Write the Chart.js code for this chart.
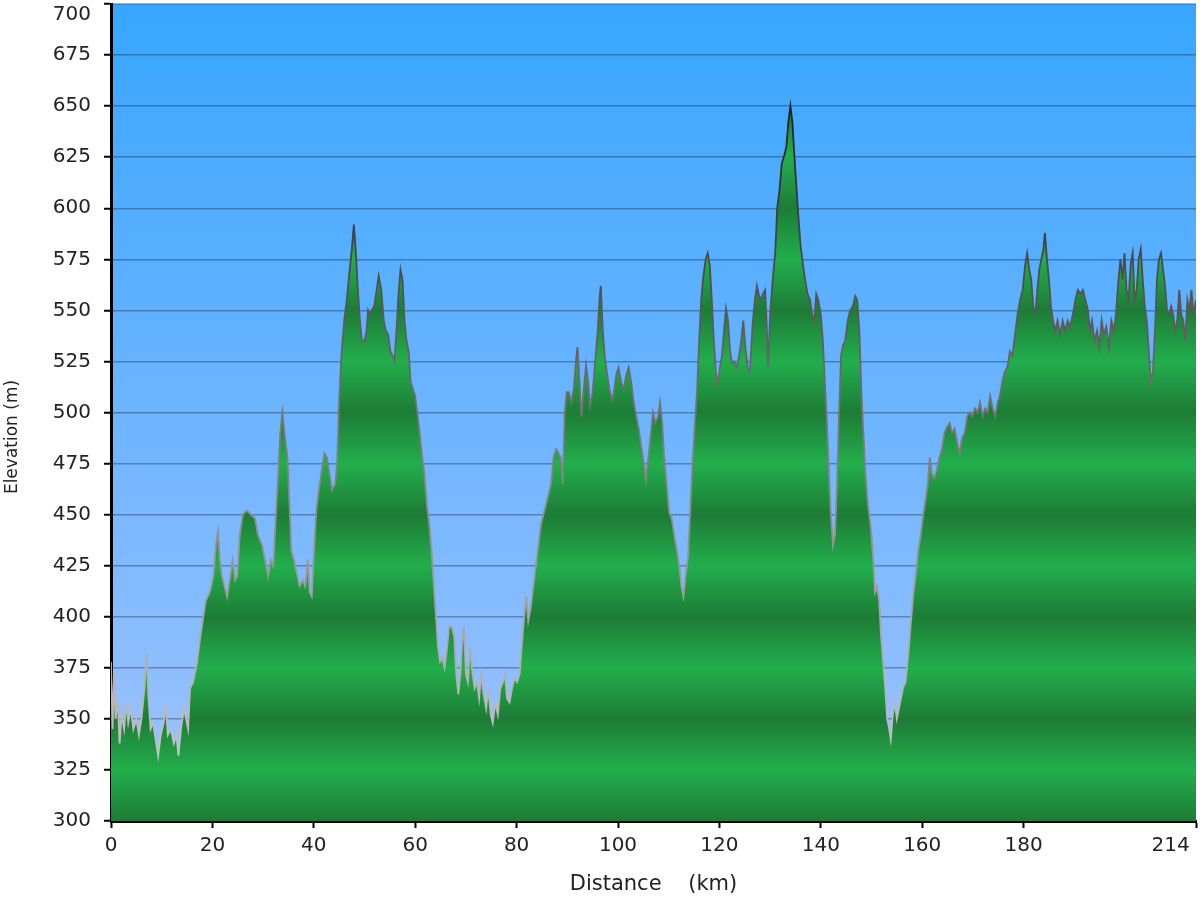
<!DOCTYPE html>
<html>
<head>
<meta charset="utf-8">
<title>Elevation profile</title>
<script src="https://cdn.jsdelivr.net/npm/chart.js@4/dist/chart.umd.min.js"></script>
<style>
    html, body { margin: 0; padding: 0; background: #fff; }
    #wrap { width: 1200px; height: 900px; position: relative; }
</style>
</head>
<body>
<div id="wrap"><canvas id="elevChart"></canvas></div>
<script>
// distance along the route (km) and elevation (m)
const distanceKm = [
    0, 0.3, 0.6, 0.9, 1.3, 1.7, 2.1, 2.6, 3.0, 3.4, 3.9, 4.4, 5.0, 5.5, 6.0, 6.6, 7.0, 7.4, 7.8, 8.3,
    8.8, 9.3, 9.8, 10.4, 10.8, 11.2, 11.8, 12.4, 12.9, 13.3, 13.8, 14.4, 14.8, 15.2, 15.6, 16.2, 17.0, 17.5, 18.2, 18.7,
    19.5, 20.2, 20.7, 21.1, 21.5, 21.9, 22.4, 22.9, 23.5, 24.0, 24.5, 24.9, 25.4, 26.0, 26.8, 27.6, 28.4, 29.0, 29.8, 30.4,
    31.0, 31.5, 32.0, 32.5, 33.0, 33.4, 33.8, 34.3, 34.8, 35.2, 35.6, 36.1, 36.6, 37.2, 37.8, 38.3, 38.8, 39.2, 39.6, 40.0,
    40.5, 41.0, 41.6, 42.1, 42.6, 43.1, 43.6, 44.2, 44.6, 45.0, 45.5, 46.0, 46.5, 47.0, 47.5, 47.9, 48.3, 48.7, 49.1, 49.5,
    50.0, 50.4, 50.7, 51.0, 51.4, 51.9, 52.4, 52.8, 53.3, 53.8, 54.2, 54.7, 55.1, 55.5, 55.9, 56.3, 56.7, 57.1, 57.5, 57.9,
    58.3, 58.7, 59.1, 59.5, 60.0, 60.4, 60.8, 61.3, 61.8, 62.3, 62.8, 63.3, 63.7, 64.1, 64.5, 64.9, 65.3, 65.8, 66.3, 66.7,
    67.2, 67.7, 68.1, 68.5, 68.9, 69.3, 69.6, 70.0, 70.4, 70.8, 71.2, 71.7, 72.2, 72.6, 73.0, 73.5, 74.0, 74.4, 74.9, 75.3,
    75.8, 76.3, 76.8, 77.3, 77.7, 78.1, 78.6, 79.1, 79.6, 80.1, 80.6, 81.0, 81.5, 81.9, 82.3, 82.8, 83.3, 83.8, 84.3, 84.8,
    85.3, 85.8, 86.3, 86.8, 87.3, 87.8, 88.3, 88.7, 89.1, 89.5, 89.9, 90.3, 90.8, 91.3, 91.7, 92.0, 92.4, 92.8, 93.2, 93.7,
    94.1, 94.5, 95.0, 95.5, 96.0, 96.4, 96.6, 97.0, 97.4, 97.9, 98.4, 98.9, 99.3, 99.7, 100.1, 100.6, 101.1, 101.6, 102.1, 102.6,
    103.1, 103.6, 104.1, 104.6, 105.1, 105.5, 106.0, 106.5, 106.9, 107.4, 107.9, 108.3, 108.7, 109.1, 109.6, 110.1, 110.6, 111.1, 111.6, 112.1,
    112.5, 112.9, 113.3, 113.8, 114.2, 114.7, 115.2, 115.6, 116.0, 116.4, 116.8, 117.3, 117.7, 118.1, 118.5, 118.9, 119.3, 119.7, 120.1, 120.5,
    120.9, 121.3, 121.7, 122.1, 122.5, 122.9, 123.4, 123.9, 124.3, 124.7, 125.2, 125.6, 126.0, 126.6, 127.0, 127.4, 128.0, 128.6, 129.0, 129.3,
    129.6, 130.0, 130.5, 131.0, 131.4, 131.9, 132.3, 132.8, 133.2, 133.6, 134.0, 134.4, 134.8, 135.2, 135.6, 136.0, 136.5, 136.9, 137.4, 137.9,
    138.3, 138.7, 139.1, 139.5, 140.0, 140.4, 140.8, 141.2, 141.6, 142.0, 142.4, 142.8, 143.2, 143.6, 144.0, 144.4, 144.8, 145.3, 145.8, 146.3,
    146.8, 147.2, 147.6, 148.0, 148.4, 148.8, 149.3, 149.8, 150.3, 150.7, 151.1, 151.5, 151.9, 152.3, 152.7, 153.1, 153.5, 153.8, 154.2, 154.6,
    155.0, 155.4, 155.8, 156.2, 156.7, 157.2, 157.7, 158.2, 158.7, 159.2, 159.7, 160.2, 160.7, 161.1, 161.5, 161.9, 162.4, 162.9, 163.4, 163.9,
    164.4, 164.9, 165.4, 165.9, 166.4, 166.9, 167.4, 167.9, 168.4, 168.9, 169.4, 169.9, 170.4, 170.9, 171.4, 171.9, 172.4, 172.9, 173.4, 173.9,
    174.4, 174.9, 175.3, 175.8, 176.3, 176.8, 177.3, 177.8, 178.3, 178.8, 179.3, 179.8, 180.3, 180.7, 181.1, 181.5, 181.9, 182.3, 182.7, 183.1,
    183.5, 183.9, 184.2, 184.6, 185.0, 185.4, 185.8, 186.2, 186.7, 187.2, 187.7, 188.2, 188.7, 189.2, 189.7, 190.2, 190.7, 191.2, 191.7, 192.2,
    192.7, 193.1, 193.5, 194.0, 194.5, 194.9, 195.4, 195.8, 196.3, 196.8, 197.3, 197.8, 198.2, 198.7, 199.1, 199.5, 199.9, 200.3, 200.7, 201.1,
    201.5, 201.9, 202.3, 202.7, 203.1, 203.5, 203.9, 204.3, 204.7, 205.1, 205.5, 205.9, 206.3, 206.7, 207.1, 207.5, 207.9, 208.3, 208.7, 209.1,
    209.5, 209.9, 210.3, 210.7, 211.1, 211.5, 211.9, 212.3, 212.7, 213.1, 213.5, 214.0
];
const elevationM = [
    378, 345, 372, 350, 360, 338, 352, 345, 358, 348, 355, 345, 350, 342, 350, 365, 382, 360, 345, 348,
    340, 332, 342, 348, 357, 342, 345, 338, 342, 332, 345, 355, 350, 345, 365, 368, 378, 388, 400, 408,
    412, 420, 435, 442, 428, 420, 415, 410, 420, 428, 418, 420, 440, 450, 452, 450, 448, 440, 435, 428,
    420, 428, 425, 448, 470, 490, 500, 488, 478, 455, 432, 428, 422, 415, 418, 415, 428, 412, 410, 430,
    452, 462, 472, 480, 478, 470, 462, 465, 475, 505, 530, 545, 555, 568, 580, 592, 578, 560, 545, 535,
    535, 540, 550, 548, 550, 552, 560, 567, 560, 545, 540, 538, 530, 528, 525, 540, 558, 570, 565, 545,
    535, 530, 515, 512, 508, 500, 492, 480, 470, 455, 445, 430, 415, 400, 385, 378, 380, 375, 385, 395,
    395, 390, 372, 362, 372, 388, 395, 372, 368, 385, 375, 365, 368, 360, 372, 362, 355, 365, 352, 348,
    358, 352, 365, 368, 372, 360, 358, 365, 370, 368, 372, 385, 400, 410, 398, 405, 415, 425, 435, 445,
    450, 455, 460, 465, 478, 482, 480, 478, 465, 500, 510, 510, 505, 512, 525, 532, 515, 498, 510, 523,
    515, 503, 510, 525, 540, 557, 562, 540, 527, 518, 510, 506, 512, 519, 522, 515, 511, 518, 522, 515,
    505, 498, 492, 483, 475, 467, 478, 490, 500, 495, 498, 505, 495, 478, 465, 451, 448, 440, 433, 425,
    415, 410, 420, 429, 450, 475, 495, 511, 535, 555, 566, 575, 578, 572, 555, 535, 520, 514, 522, 528,
    540, 551, 545, 530, 524, 525, 522, 528, 535, 545, 530, 522, 520, 545, 555, 562, 555, 558, 560, 545,
    522, 548, 565, 578, 600, 610, 622, 626, 630, 642, 650, 642, 625, 610, 595, 582, 572, 565, 558, 555,
    548, 545, 558, 555, 548, 535, 515, 495, 470, 450, 435, 440, 465, 500, 528, 533, 535, 545, 550, 552,
    557, 555, 540, 510, 490, 470, 455, 445, 430, 412, 415, 408, 390, 378, 365, 350, 345, 340, 352, 358,
    350, 355, 360, 365, 368, 380, 395, 410, 420, 432, 440, 450, 458, 465, 478, 470, 468, 472, 478, 482,
    490, 493, 495, 490, 492, 485, 480, 488, 490, 498, 500, 498, 502, 500, 505, 498, 502, 500, 508, 502,
    498, 505, 508, 515, 520, 522, 530, 528, 538, 548, 555, 560, 572, 578, 570, 565, 552, 548, 560, 570,
    575, 580, 588, 575, 565, 552, 545, 540, 545, 538, 545, 540, 545, 542, 548, 555, 560, 558, 560, 555,
    550, 540, 545, 535, 540, 532, 545, 538, 542, 532, 545, 540, 548, 565, 575, 565, 578, 560, 555, 572,
    578, 555, 560, 575, 580, 565, 552, 545, 530, 515, 520, 540, 565, 575, 578, 570, 562, 550, 548, 552,
    548, 540, 545, 560, 548, 545, 535, 555, 550, 560, 548, 555
];
const xTickValues = [0, 20, 40, 60, 80, 100, 120, 140, 160, 180, 214];
const yMin = 300;
const yMax = 700;
const yStep = 25;
const xTitle = 'Distance    (km)';
const yTitle = 'Elevation (m)';

const points = distanceKm.map((d, i) => ({ x: d, y: elevationM[i] }));

// green fill with darker bands on every 50 m line
function groundFill(context) {
    const chart = context.chart;
    if (!chart.chartArea) return '#22aa4b';
    const y = chart.scales.y;
    const top = y.getPixelForValue(yMax);
    const bottom = y.getPixelForValue(yMin);
    const g = chart.ctx.createLinearGradient(0, top, 0, bottom);
    for (let v = yMax; v >= yMin; v -= yStep) {
        const dark = (v % 50) === 0;
        g.addColorStop((yMax - v) / (yMax - yMin), dark ? '#1d7c36' : '#22ae4c');
    }
    return g;
}

// outline goes from pale grey low down to almost black at the top
function outlineColor(context) {
    const chart = context.chart;
    if (!chart.chartArea) return '#888';
    const y = chart.scales.y;
    const g = chart.ctx.createLinearGradient(0, y.getPixelForValue(330), 0, y.getPixelForValue(650));
    g.addColorStop(0, '#c4c4c4');
    g.addColorStop(0.5, '#7a7a7a');
    g.addColorStop(1, '#1e1e1e');
    return g;
}

const skyPlugin = {
    id: 'sky',
    beforeDraw(chart) {
        const { ctx, chartArea: a } = chart;
        const g = ctx.createLinearGradient(0, a.top, 0, a.bottom);
        g.addColorStop(0, '#37a6ff');
        g.addColorStop(1, '#a2c3ff');
        ctx.save();
        ctx.fillStyle = g;
        ctx.fillRect(a.left, a.top, a.right - a.left, a.bottom - a.top);
        ctx.restore();
    },
    // top y label is pushed down so it is not cut by the edge; y title sits a bit low
    afterDraw(chart) {
        const { ctx, scales } = chart;
        const y = scales.y;
        ctx.save();
        ctx.fillStyle = '#222';
        ctx.font = '20px "DejaVu Sans"';
        ctx.textAlign = 'right';
        ctx.textBaseline = 'top';
        ctx.fillText(String(yMax), y.right - 7 - 13, y.getPixelForValue(yMax) + 1);
        ctx.font = '17px "DejaVu Sans"';
        ctx.textAlign = 'center';
        ctx.textBaseline = 'middle';
        ctx.translate(13, 437);
        ctx.rotate(-Math.PI / 2);
        ctx.fillText(yTitle, 0, 0);
        ctx.restore();
    }
};

const tickFont = { family: 'DejaVu Sans', size: 20 };

new Chart(document.getElementById('elevChart').getContext('2d'), {
    type: 'line',
    data: {
        datasets: [{
            label: 'Elevation',
            data: points,
            borderColor: outlineColor,
            borderWidth: 1.8,
            backgroundColor: groundFill,
            fill: 'start',
            pointRadius: 0,
            tension: 0
        }]
    },
    options: {
        responsive: true,
        maintainAspectRatio: false,
        animation: false,
        layout: { padding: { top: 4, right: 4, left: 0, bottom: 0 } },
        plugins: {
            legend: { display: false },
            tooltip: { enabled: false }
        },
        scales: {
            x: {
                type: 'linear',
                min: 0,
                max: 214,
                z: 1,
                afterBuildTicks(scale) {
                    scale.ticks = xTickValues.map(v => ({ value: v }));
                },
                afterFit(scale) {
                    scale.height = 79;
                    scale.paddingLeft = 0;
                    scale.paddingRight = 0;
                },
                ticks: {
                    autoSkip: false,
                    maxRotation: 0,
                    color: '#222',
                    font: tickFont,
                    padding: 6,
                    callback: v => (v === 214 ? '214        ' : String(v))
                },
                grid: {
                    drawOnChartArea: false,
                    drawTicks: true,
                    tickLength: 7,
                    tickColor: '#000',
                    tickWidth: 2
                },
                border: { color: '#000', width: 3 },
                title: {
                    display: true,
                    text: xTitle,
                    color: '#222',
                    font: { family: 'DejaVu Sans', size: 21 },
                    padding: { top: 0, bottom: 3 }
                }
            },
            y: {
                min: yMin,
                max: yMax,
                z: 1,
                afterFit(scale) {
                    scale.width = 111;
                    scale.paddingTop = 0;
                    scale.paddingBottom = 0;
                },
                ticks: {
                    stepSize: yStep,
                    color: '#222',
                    font: tickFont,
                    padding: 13,
                    callback: v => (v === yMax ? '' : String(v))
                },
                grid: {
                    color: 'rgba(0,0,0,0.3)',
                    lineWidth: 1.5,
                    tickLength: 7,
                    tickColor: '#000',
                    tickWidth: 2
                },
                border: { color: '#000', width: 3 },
                title: { display: false }
            }
        }
    },
    plugins: [skyPlugin]
});
</script>
</body>
</html>
